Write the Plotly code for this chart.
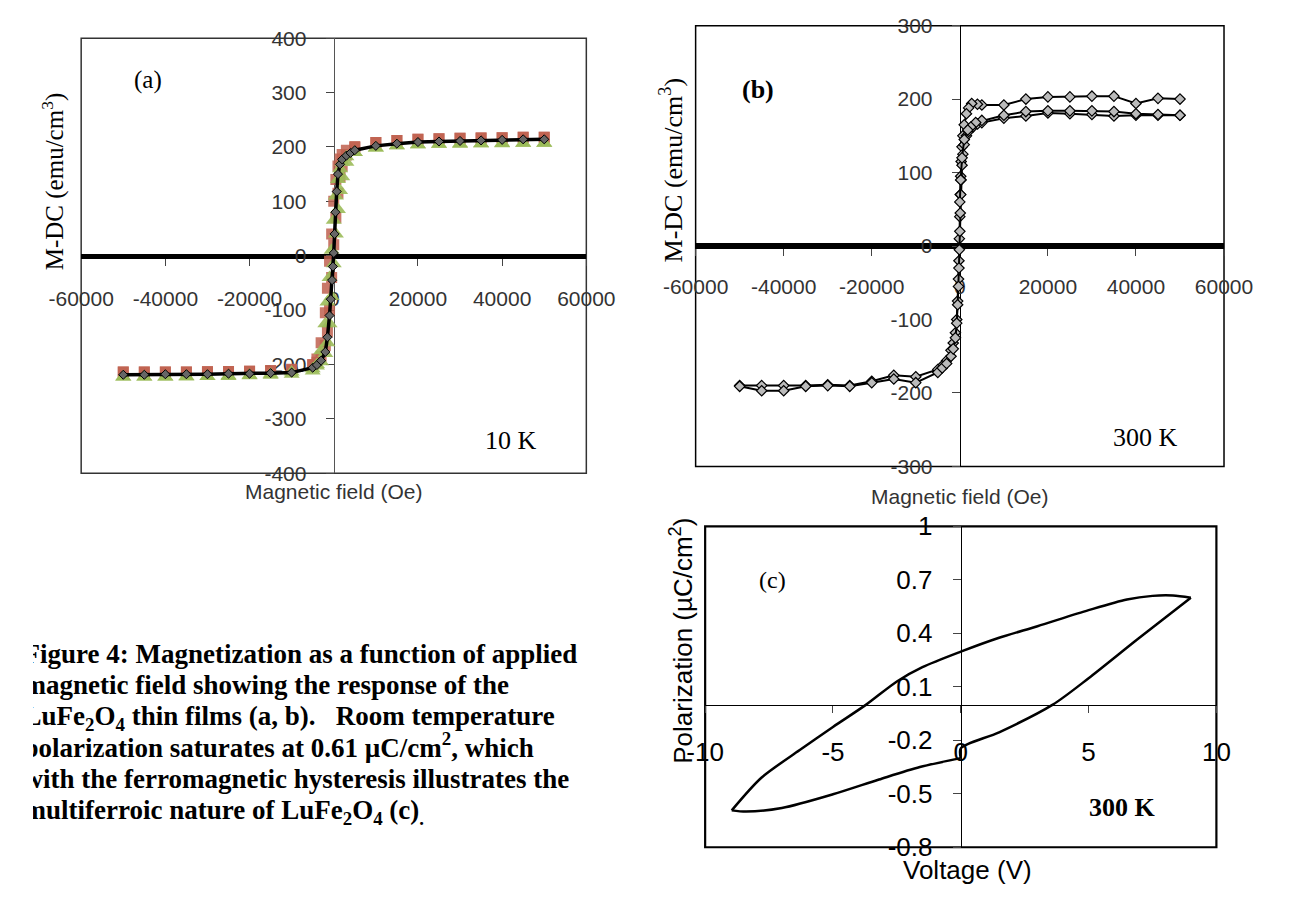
import plotly.graph_objects as go

W, H = 1293, 899

# ---------------- data: panel (a) 10 K ----------------
a_black_x = [-50000, -45000, -40000, -35000, -30000, -25000, -20000, -15000, -10000, -5000,
             -4000, -3000, -2000, -1500, -1000, -700, -400, -200, 0, 200, 400, 700, 1000, 1500,
             2000, 3000, 4000, 5000, 10000, 15000, 20000, 25000, 30000, 35000, 40000, 45000, 50000]
a_black_y = [-219, -219, -218, -218, -218, -217, -217, -216, -215, -206,
             -201, -193, -177, -150, -110, -80, -45, -20, 5, 40, 80, 118, 150, 168,
             177, 184, 189, 194, 202, 206, 209, 210, 211, 212, 213, 214, 214]

a_desc_x = [50000, 45000, 40000, 35000, 30000, 25000, 20000, 15000, 10000, 5000,
            3000, 2000, 1500, 1000, 500, 0, -500, -1000, -1500, -2000, -3000, -4000,
            -5000, -10000, -15000, -20000, -25000, -30000, -35000, -40000, -45000, -50000]
a_asc_x = [-50000, -45000, -40000, -35000, -30000, -25000, -20000, -15000, -10000, -5000,
           -4000, -3000, -2000, -1500, -1000, -500, 0, 500, 1000, 1500, 2000, 3000,
           5000, 10000, 15000, 20000, 25000, 30000, 35000, 40000, 45000, 50000]
a_red_desc_y = [218, 218, 217, 216, 216, 215, 214, 212, 208, 201,
                194, 186, 178, 165, 140, 100, 40, -10, -60, -105, -160, -190,
                -200, -210, -212, -213, -213, -214, -214, -214, -214, -214]
a_red_asc_y = [-214, -214, -214, -214, -213, -213, -212, -211, -209, -201,
               -196, -185, -165, -140, -100, -40, 20, 70, 115, 145, 165, 185,
               199, 208, 212, 214, 215, 216, 217, 217, 218, 218]
a_green_desc_y = [207, 207, 206, 206, 205, 205, 204, 202, 198, 190,
                  182, 172, 160, 140, 110, 65, 10, -40, -85, -125, -175, -200,
                  -212, -218, -220, -221, -222, -222, -223, -223, -223, -223]
a_green_asc_y = [-223, -223, -223, -222, -222, -221, -220, -218, -214, -208,
                 -203, -195, -180, -160, -125, -75, -15, 40, 85, 120, 145, 172,
                 190, 198, 202, 204, 205, 206, 206, 207, 207, 207]

# ---------------- data: panel (b) 300 K ----------------
b1_x = [50000, 45000, 40000, 35000, 30000, 25000, 20000, 15000, 10000, 5000, 4000, 2700,
        2000, 1500, 1000, 700, 500, 300, 200, 100, 0, -100, -200, -300, -500, -700, -1000,
        -1500, -2000, -3000, -4000, -5000, -10000, -15000, -20000, -25000, -30000, -35000,
        -40000, -45000, -50000]
b1_y = [200, 201, 194, 204, 204, 203, 203, 200, 192, 192, 193, 194,
        188, 180, 165, 150, 135, 115, 95, 70, 40, 10, -20, -45, -75, -100, -118,
        -132, -142, -156, -163, -168, -178, -176, -184, -190, -189, -190,
        -190, -190, -190]
b2_x = [-50000, -45000, -40000, -35000, -30000, -25000, -20000, -15000, -10000, -5000,
        -4000, -3000, -2000, -1500, -1000, -700, -500, -300, -200, -100, 0, 100, 200, 300,
        500, 700, 1000, 1500, 2000, 3000, 4000, 5000, 10000, 15000, 20000, 25000, 30000,
        35000, 40000, 45000, 50000]
b2_y = [-191, -197, -197, -191, -190, -191, -186, -181, -186, -172,
        -166, -160, -150, -140, -125, -105, -80, -55, -30, -5, 20, 45, 70, 90,
        110, 125, 138, 150, 156, 162, 166, 168, 174, 177, 181, 180, 179,
        177, 178, 178, 178]
b3_x = [50000, 45000, 40000, 35000, 30000, 25000, 20000, 15000, 10000, 5000, 3600, 2500,
        1800, 1000, 500, 200, 0]
b3_y = [178, 179, 180, 183, 184, 184, 184, 183, 178, 171, 168, 162,
        158, 145, 120, 90, 60]

# ---------------- data: panel (c) P-V loop ----------------
c_upper_v = [9.0, 8.3, 7.5, 6.5, 5.0, 3.0, 1.5, 0.0, -1.5, -2.5, -3.7, -5.0, -6.3, -7.8, -8.96]
c_upper_p = [0.60, 0.612, 0.61, 0.59, 0.53, 0.44, 0.375, 0.297, 0.21, 0.13, 0.0, -0.125,
             -0.255, -0.41, -0.593]
c_lower_left_v = [-8.96, -8.4, -7.0, -5.0, -3.2, -1.6, 0.0]
c_lower_left_p = [-0.593, -0.60, -0.58, -0.503, -0.42, -0.35, -0.30]
c_lower_right_v = [0.0, 0.0, 1.5, 3.6, 5.0, 6.9, 9.0]
c_lower_right_p = [-0.30, -0.245, -0.155, 0.0, 0.148, 0.365, 0.60]

# ---------------- tick / text ----------------
ab_xticks = [-60000, -40000, -20000, 0, 20000, 40000, 60000]
ab_xticktext = ["-60000", "-40000", "-20000", "0", "20000", "40000", "60000"]
a_yticks = [-400, -300, -200, -100, 0, 100, 200, 300, 400]
a_yticktext = ["-400", "-300", "-200", "-100", "0", "100", "200", "300", "400"]
b_yticks = [-300, -200, -100, 0, 100, 200, 300]
b_yticktext = ["-300", "-200", "-100", "0", "100", "200", "300"]
c_xticks = [-10, -5, 0, 5, 10]
c_xticktext = ["-10", "-5", "0", "5", "10"]
c_yticks = [-0.8, -0.5, -0.2, 0.1, 0.4, 0.7, 1]
c_yticktext = ["-0.8", "-0.5", "-0.2", "0.1", "0.4", "0.7", "1"]

caption_lines = [
    "Figure 4: Magnetization as a function of applied",
    "magnetic field showing the response of the",
    "LuFe<sub>2</sub>O<sub>4</sub> thin films (a, b).   Room temperature",
    "polarization saturates at 0.61 µC/cm<sup>2</sup>, which",
    "with the ferromagnetic hysteresis illustrates the",
    "multiferroic nature of LuFe<sub>2</sub>O<sub>4</sub> (c)<sub>.</sub>",
]


def px(x):
    return x / W


def py(y):
    return 1 - y / H


# panel boxes in pixels (left, right, top, bottom)
A = (50.6, 581.2, 24, 474)
B = (696, 1251, 11, 467)
C = (706, 1243, 529, 861)

fig = go.Figure()

RED = "#C0604F"
GREEN = "#9BBB59"

for xs, ys in [(a_desc_x, a_red_desc_y), (a_asc_x, a_red_asc_y)]:
    fig.add_trace(go.Scatter(x=xs, y=ys, mode="markers", xaxis="x", yaxis="y",
                             marker=dict(symbol="square", size=11, color=RED, opacity=0.85,
                                         line=dict(width=0))))
for xs, ys in [(a_desc_x, a_green_desc_y), (a_asc_x, a_green_asc_y)]:
    fig.add_trace(go.Scatter(x=xs, y=ys, mode="markers", xaxis="x", yaxis="y",
                             marker=dict(symbol="triangle-up", size=14, color=GREEN, opacity=0.9,
                                         line=dict(width=0))))
fig.add_trace(go.Scatter(x=a_black_x, y=a_black_y, mode="lines+markers", xaxis="x", yaxis="y",
                         line=dict(color="black", width=3.5),
                         marker=dict(symbol="diamond", size=7, color="#666",
                                     line=dict(color="black", width=1))))

for xs, ys in [(b1_x, b1_y), (b2_x, b2_y), (b3_x, b3_y)]:
    fig.add_trace(go.Scatter(x=xs, y=ys, mode="lines+markers", xaxis="x2", yaxis="y2",
                             line=dict(color="black", width=2),
                             marker=dict(symbol="diamond", size=8, color="#bbbbbb",
                                         line=dict(color="black", width=1.2))))

for xs, ys in [(c_upper_v, c_upper_p), (c_lower_left_v, c_lower_left_p),
               (c_lower_right_v, c_lower_right_p)]:
    fig.add_trace(go.Scatter(x=xs, y=ys, mode="lines", xaxis="x3", yaxis="y3",
                             line=dict(color="black", width=2.5, shape="spline", smoothing=0.8)))

# caption: text placed on a hidden pixel-scaled subplot so the clipped left edge is kept
cap_x = [-10] * len(caption_lines)
cap_y = [663 + 32.4 * i for i in range(len(caption_lines))]
fig.add_trace(go.Scatter(x=cap_x, y=cap_y, mode="text", xaxis="x4", yaxis="y4",
                         text=["<b>" + s + "</b>" for s in caption_lines],
                         textposition="middle right", cliponaxis=True, hoverinfo="skip",
                         textfont=dict(family="Liberation Serif", size=27, color="black")))

tick_font_ab = dict(family="Liberation Sans", size=21, color="#333333")
tick_font_c = dict(family="Liberation Sans", size=26, color="black")


def xaxis_cfg(box, rng, tickvals, ticktext, lw, font, standoff, yzero_px):
    return dict(domain=[px(box[0]), px(box[1])], range=rng, anchor="free",
                position=py(yzero_px), tickmode="array", tickvals=tickvals, ticktext=ticktext,
                showline=True, linewidth=lw,
                linecolor="black", ticks="outside", ticklen=7, tickwidth=1.3,
                tickcolor="#444", tickfont=font, ticklabelstandoff=standoff,
                showgrid=False, zeroline=False, layer="below traces", fixedrange=True)


def yaxis_cfg(box, rng, tickvals, ticktext, font, standoff, xzero_px, lc="black"):
    return dict(domain=[py(box[3]), py(box[2])], range=rng, anchor="free",
                position=px(xzero_px), tickmode="array", tickvals=tickvals, ticktext=ticktext,
                showline=True, linewidth=1.2,
                linecolor=lc, ticks="outside", ticklen=8, tickwidth=1.3, tickcolor="#444",
                tickfont=font, ticklabelstandoff=standoff, showgrid=False, zeroline=False,
                layer="below traces", fixedrange=True)


A0y = (A[2] + A[3]) / 2
B0y = (B[2] + B[3]) / 2
C0y = C[2] + (1 / 1.8) * (C[3] - C[2])

fig.update_layout(
    width=W, height=H, autosize=False, margin=dict(l=0, r=0, t=0, b=0, pad=0),
    paper_bgcolor="white", plot_bgcolor="rgba(0,0,0,0)", showlegend=False,
    xaxis=xaxis_cfg(A, [-60000, 60000], ab_xticks, ab_xticktext, 5, tick_font_ab, 15, A0y),
    yaxis=yaxis_cfg(A, [-400, 400], a_yticks, a_yticktext, tick_font_ab, 15,
                    (A[0] + A[1]) / 2, "#555"),
    xaxis2=xaxis_cfg(B, [-60000, 60000], ab_xticks, ab_xticktext, 6, tick_font_ab, 13, B0y),
    yaxis2=yaxis_cfg(B, [-300, 300], b_yticks, b_yticktext, tick_font_ab, 15,
                     (B[0] + B[1]) / 2),
    xaxis3=xaxis_cfg(C, [-10, 10], c_xticks, c_xticktext, 1.2, tick_font_c, 17, C0y),
    yaxis3=yaxis_cfg(C, [-0.8, 1], c_yticks, c_yticktext, tick_font_c, 15,
                     (C[0] + C[1]) / 2),
    xaxis4=dict(domain=[0, 0.5], range=[0, W * 0.5], visible=False, fixedrange=True,
                anchor="y4"),
    yaxis4=dict(domain=[0, 1], range=[H, 0], visible=False, fixedrange=True, anchor="x4"),
)

shapes = []
for box, lw, col in [(A, 1.5, "#333"), (B, 1.5, "black"), (C, 2.2, "black")]:
    shapes.append(dict(type="rect", xref="paper", yref="paper", x0=px(box[0]), x1=px(box[1]),
                       y0=py(box[3]), y1=py(box[2]), line=dict(color=col, width=lw),
                       fillcolor="rgba(0,0,0,0)", layer="below"))
fig.update_layout(shapes=shapes)

ann = []


def text(x, y, s, size, family="Liberation Serif", angle=0, color="black", xanchor="center"):
    ann.append(dict(x=px(x), y=py(y), xref="paper", yref="paper", text=s, showarrow=False,
                    xanchor=xanchor, yanchor="middle", textangle=angle,
                    font=dict(family=family, size=size, color=color)))


text(120.6, 67, "(a)", 25)
text(502, 440, "10 K", 26)
text(21, 172, "M-DC (emu/cm<sup>3</sup>)", 25, angle=-90)
text(316, 493, "Magnetic field (Oe)", 21, family="Liberation Sans", color="#333")

text(761, 77, "<b>(b)</b>", 26)
text(1169, 437, "300 K", 26)
text(671, 160, "M-DC (emu/cm<sup>3</sup>)", 26, angle=-90)
text(973, 498, "Magnetic field (Oe)", 21, family="Liberation Sans", color="#333")

text(777, 585, "(c)", 24)
text(1144, 820, "<b>300 K</b>", 26)
text(681, 647, "Polarization (µC/cm<sup>2</sup>)", 26, family="Liberation Sans", angle=-90)
text(982, 884, "Voltage (V)", 26, family="Liberation Sans")

fig.update_layout(annotations=ann)

fig.write_html("out.html", post_script="document.body.style.margin='0px';",
               config={"displayModeBar": False})
